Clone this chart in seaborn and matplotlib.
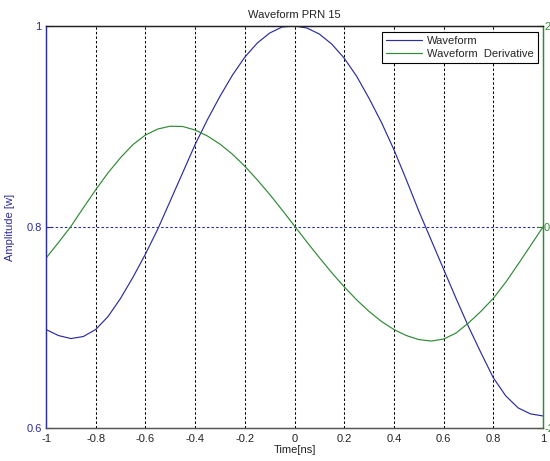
import matplotlib
matplotlib.use("Agg")
import matplotlib.pyplot as plt
import seaborn as sns
import pandas as pd

# Sample times [ns]
time_ns = [-1.00, -0.95, -0.90, -0.85, -0.80, -0.75, -0.70, -0.65, -0.60, -0.55,
           -0.50, -0.45, -0.40, -0.35, -0.30, -0.25, -0.20, -0.15, -0.10, -0.05,
           0.00, 0.05, 0.10, 0.15, 0.20, 0.25, 0.30, 0.35, 0.40, 0.45,
           0.50, 0.55, 0.60, 0.65, 0.70, 0.75, 0.80, 0.85, 0.90, 0.95, 1.00]

# Normalised waveform amplitude (left axis)
waveform = [0.698, 0.692, 0.689, 0.691, 0.698, 0.711, 0.729, 0.750, 0.773, 0.798,
            0.826, 0.854, 0.882, 0.907, 0.930, 0.951, 0.969, 0.983, 0.993, 0.999,
            1.000, 0.998, 0.992, 0.982, 0.968, 0.950, 0.928, 0.904, 0.877, 0.847,
            0.816, 0.787, 0.758, 0.729, 0.701, 0.675, 0.650, 0.632, 0.620, 0.614, 0.612]

# Waveform derivative (right axis)
derivative = [-0.31, -0.155, 0.005, 0.19, 0.37, 0.54, 0.69, 0.82, 0.915, 0.975,
              1.003, 1.000, 0.965, 0.905, 0.825, 0.725, 0.605, 0.47, 0.325, 0.17,
              0.01, -0.15, -0.305, -0.455, -0.595, -0.725, -0.84, -0.94, -1.02, -1.08,
              -1.12, -1.135, -1.115, -1.055, -0.955, -0.84, -0.71, -0.55, -0.37, -0.185, 0.00]

x_ticks = [-1, -0.8, -0.6, -0.4, -0.2, 0, 0.2, 0.4, 0.6, 0.8, 1]
x_tick_labels = ["-1", "-0.8", "-0.6", "-0.4", "-0.2", "0", "0.2", "0.4", "0.6", "0.8", "1"]
left_ticks = [0.6, 0.8, 1.0]
left_tick_labels = ["0.6", "0.8", "1"]
right_ticks = [-2, 0, 2]
right_tick_labels = ["-2", "0", "2"]

df = pd.DataFrame({"t": time_ns, "w": waveform, "d": derivative})

sns.set_style("white")
plt.rcParams["font.family"] = ["Liberation Sans", "DejaVu Sans"]
plt.rcParams["font.size"] = 8
plt.rcParams["axes.unicode_minus"] = False

BLUE = "#2c2c9c"
GREEN = "#2f8a35"
GRID_DASH = (0, (2.4, 2.0))

fig = plt.figure(figsize=(5.5, 4.61), dpi=100)
ax = fig.add_axes([46 / 550, 33 / 461, 497 / 550, 402 / 461])

sns.lineplot(data=df, x="t", y="w", ax=ax, color=BLUE, linewidth=0.85,
             label="Waveform", legend=False)
ax.set_xlim(-1, 1)
ax.set_ylim(0.6, 1.0)
ax.set_xticks(x_ticks)
ax.set_xticklabels(x_tick_labels)
ax.set_yticks(left_ticks)
ax.set_yticklabels(left_tick_labels)

# vertical grid at x ticks (black) and horizontal grid at y ticks (blue)
for xv in x_ticks[1:-1]:
    ax.axvline(xv, color="black", linestyle=GRID_DASH, linewidth=0.75, zorder=0.5)
ax.axhline(0.8, color=BLUE, linestyle=GRID_DASH, linewidth=0.75, zorder=0.5)

ax.tick_params(axis="x", direction="in", length=4, pad=4, colors="#222222",
               labelsize=8, top=False)
ax.tick_params(axis="y", direction="in", length=4, pad=3, colors=BLUE, labelsize=8)
ax.set_xlabel("Time[ns]", fontsize=8, labelpad=1, color="#222222")
ax.set_ylabel("Amplitude [w]", fontsize=8, color=BLUE, labelpad=8)
ax.set_title("Waveform PRN 15", fontsize=8, pad=6, color="#222222")

ax2 = ax.twinx()
sns.lineplot(data=df, x="t", y="d", ax=ax2, color=GREEN, linewidth=0.85,
             label="Waveform  Derivative", legend=False)
ax2.set_ylim(-2, 2)
ax2.set_yticks(right_ticks)
ax2.set_yticklabels(right_tick_labels)
ax2.set_ylabel("")
ax2.tick_params(axis="y", direction="in", length=4, pad=0.8, colors=GREEN, labelsize=8)

for a in (ax, ax2):
    for s in a.spines.values():
        s.set_linewidth(0.9)
    a.spines["top"].set_color("#222222")
    a.spines["bottom"].set_color("#555555")
    a.spines["left"].set_color(BLUE)
    a.spines["right"].set_color(GREEN)

h1, l1 = ax.get_legend_handles_labels()
h2, l2 = ax2.get_legend_handles_labels()
leg = ax2.legend(h1 + h2, l1 + l2, loc="upper right", bbox_to_anchor=(0.99, 0.985),
                 frameon=True, fancybox=False, framealpha=1, edgecolor="black",
                 fontsize=8, handlelength=3.2, handletextpad=0.5,
                 borderpad=0.35, labelspacing=0.25, borderaxespad=0)
leg.get_frame().set_linewidth(0.8)

fig.savefig("out.png", dpi=100)
